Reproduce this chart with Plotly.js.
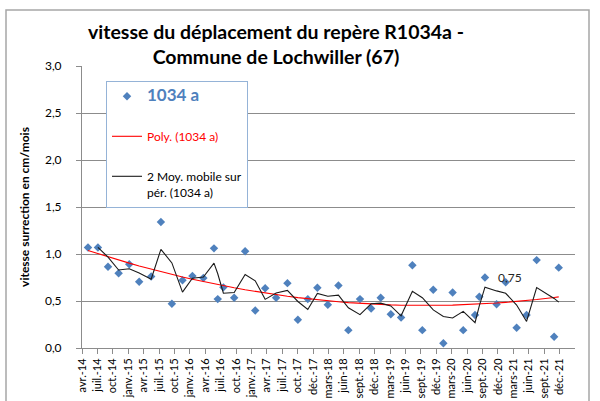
<!DOCTYPE html>
<html><head><meta charset="utf-8">
<script src="https://cdn.plot.ly/plotly-3.0.1.min.js"></script>
<style>html,body{margin:0;padding:0;background:#fff}#chart{width:600px;height:401px}</style>
</head><body><div id="chart"></div>
<script>
// ---- data ----
const seriesName = '1034 a';
const dates = ['2014-05-26','2014-07-23','2014-09-20','2014-11-21','2015-01-22','2015-03-21','2015-05-30','2015-07-26','2015-09-28','2015-11-29','2016-01-26','2016-03-30','2016-05-31','2016-06-22','2016-07-25','2016-09-26','2016-11-29','2017-01-27','2017-03-26','2017-05-29','2017-08-03','2017-10-03','2017-11-30','2018-01-25','2018-03-27','2018-05-28','2018-07-25','2018-10-01','2018-12-05','2019-01-30','2019-03-30','2019-05-29','2019-08-03','2019-09-30','2019-12-03','2020-01-31','2020-03-25','2020-05-26','2020-08-03','2020-08-28','2020-09-30','2020-12-07','2021-01-29','2021-04-03','2021-05-31','2021-07-29','2021-11-08','2021-12-05'];
const values = [1.07,1.07,0.865,0.795,0.89,0.705,0.76,1.34,0.47,0.72,0.766,0.745,1.06,0.52,0.645,0.535,1.03,0.40,0.635,0.535,0.69,0.30,0.52,0.64,0.46,0.665,0.19,0.52,0.42,0.535,0.36,0.325,0.88,0.19,0.62,0.05,0.59,0.19,0.35,0.545,0.75,0.465,0.70,0.215,0.35,0.935,0.12,0.855];
const labelledIndex = 40; // the point carrying the "0,75" data label
const tickLabels = ['avr.-14','juil.-14','oct.-14','janv.-15','avr.-15','juil.-15','oct.-15','janv.-16','avr.-16','juil.-16','oct.-16','janv.-17','avr.-17','juil.-17','oct.-17','déc.-17','mars-18','juin-18','sept.-18','déc.-18','mars-19','juin-19','sept.-19','déc.-19','mars-20','juin-20','sept.-20','déc.-20','mars-21','juin-21','sept.-21','déc.-21'];
const axisStart = '2014-04-21';
const axisEnd = '2022-03-10';
const tickStepDays = 90;
const polyName = 'Poly. (1034 a)';
const maName = '2 Moy. mobile sur<br>pér. (1034 a)';
const titleText = 'vitesse du déplacement du repère R1034a -<br>Commune de Lochwiller (67)';
const yTitle = 'vitesse surrection en cm/mois';

// ---- trendlines derived from the data (as Excel does) ----
const DAY = 86400000;
const t0 = Date.parse(dates[0]);
const tYears = dates.map(d => (Date.parse(d) - t0) / DAY / 365.25);
function polyFit(x, y, order) {
  const n = order + 1;
  const A = Array.from({length: n}, () => new Array(n + 1).fill(0));
  for (let k = 0; k < x.length; k++) {
    for (let i = 0; i < n; i++) {
      for (let j = 0; j < n; j++) A[i][j] += Math.pow(x[k], i + j);
      A[i][n] += y[k] * Math.pow(x[k], i);
    }
  }
  for (let i = 0; i < n; i++) {
    let p = i;
    for (let r = i + 1; r < n; r++) if (Math.abs(A[r][i]) > Math.abs(A[p][i])) p = r;
    [A[i], A[p]] = [A[p], A[i]];
    for (let r = 0; r < n; r++) {
      if (r === i) continue;
      const f = A[r][i] / A[i][i];
      for (let c = i; c <= n; c++) A[r][c] -= f * A[i][c];
    }
  }
  return A.map((row, i) => row[n] / row[i]);
}
const coef = polyFit(tYears, values, 2);
const polyY = tYears.map(t => coef.reduce((s, c, i) => s + c * Math.pow(t, i), 0));
const maX = dates.slice(1);
const maY = values.slice(1).map((v, i) => (v + values[i]) / 2);

const startMs = Date.parse(axisStart);
const tickVals = tickLabels.map((_, k) => new Date(startMs + k * tickStepDays * DAY).toISOString().slice(0, 10));

const FONT = 'Lato, "Liberation Sans", Arial, sans-serif';
const traces = [
  {x: dates, y: values, type: 'scatter', mode: 'markers',
   name: '<b><span style="color:#4F81BD;font-size:17px">' + seriesName + '</span></b>',
   marker: {symbol: 'diamond', size: 6.5, color: '#4F81BD'},
   legendgroup: 'a'},
  {x: dates, y: polyY, type: 'scatter', mode: 'lines',
   name: '<span style="color:#FF0000">' + polyName + '</span>',
   line: {color: '#FF0000', width: 1.1}, legendgroup: 'b'},
  {x: maX, y: maY, type: 'scatter', mode: 'lines', name: maName,
   line: {color: '#1a1a1a', width: 1.1}, legendgroup: 'c'}
];

const L = 82, R = 25, T = 66, B = 53, W = 600, H = 401;
const pw = W - L - R, ph = H - T - B;
const px = x => (x - L) / pw;
const py = y => (H - B - y) / ph;

const layout = {
  width: W, height: H,
  margin: {l: L, r: R, t: T, b: B},
  paper_bgcolor: '#fff', plot_bgcolor: '#fff',
  separators: ', ',
  font: {family: FONT, color: '#000', size: 12},
  title: {text: titleText, font: {family: FONT, size: 19.5, weight: 'bold', color: '#000'},
          x: 276 / W, xref: 'container', xanchor: 'center',
          y: 1 - 39 / H, yref: 'container', yanchor: 'middle'},
  xaxis: {type: 'date', range: [axisStart, axisEnd], tickmode: 'array',
          tickvals: tickVals, ticktext: tickLabels, tickangle: -90,
          tickfont: {family: FONT, size: 11, color: '#000'},
          ticks: 'outside', ticklen: 5, tickcolor: '#8c8c8c',
          showline: true, linecolor: '#8c8c8c', linewidth: 1,
          showgrid: false, zeroline: false, fixedrange: true},
  yaxis: {range: [0, 3], dtick: 0.5, tick0: 0, tickformat: '.1f',
          tickfont: {family: FONT, size: 12, color: '#000'},
          ticks: 'outside', ticklen: 5, tickcolor: '#8c8c8c', ticklabelstandoff: 12,
          showline: true, linecolor: '#8c8c8c', linewidth: 1,
          showgrid: true, gridcolor: '#8c8c8c', gridwidth: 1, zeroline: false,
          title: {text: '<b>' + yTitle + '</b>', font: {family: FONT, size: 12, color: '#000'}, standoff: 12},
          fixedrange: true},
  showlegend: true,
  legend: {x: px(106), y: py(81), xanchor: 'left', yanchor: 'top',
           bgcolor: '#fff', bordercolor: '#95B3D7', borderwidth: 1,
           font: {family: FONT, size: 12, color: '#000'},
           traceorder: 'grouped', tracegroupgap: 21, valign: 'top'},
  annotations: [{x: dates[labelledIndex], y: values[labelledIndex],
                 text: String(values[labelledIndex]).replace('.', ','),
                 showarrow: false, xanchor: 'left', yanchor: 'middle', xshift: 11,
                 font: {family: FONT, size: 12, color: '#262626'}}],
  shapes: [{type: 'rect', xref: 'paper', yref: 'paper',
            x0: px(6), x1: px(589), y0: py(430), y1: py(10),
            line: {color: '#a6a6a6', width: 1.5}, fillcolor: 'rgba(0,0,0,0)', layer: 'below'}]
};
Plotly.newPlot('chart', traces, layout, {staticPlot: true, displayModeBar: false});
</script>
</body></html>
